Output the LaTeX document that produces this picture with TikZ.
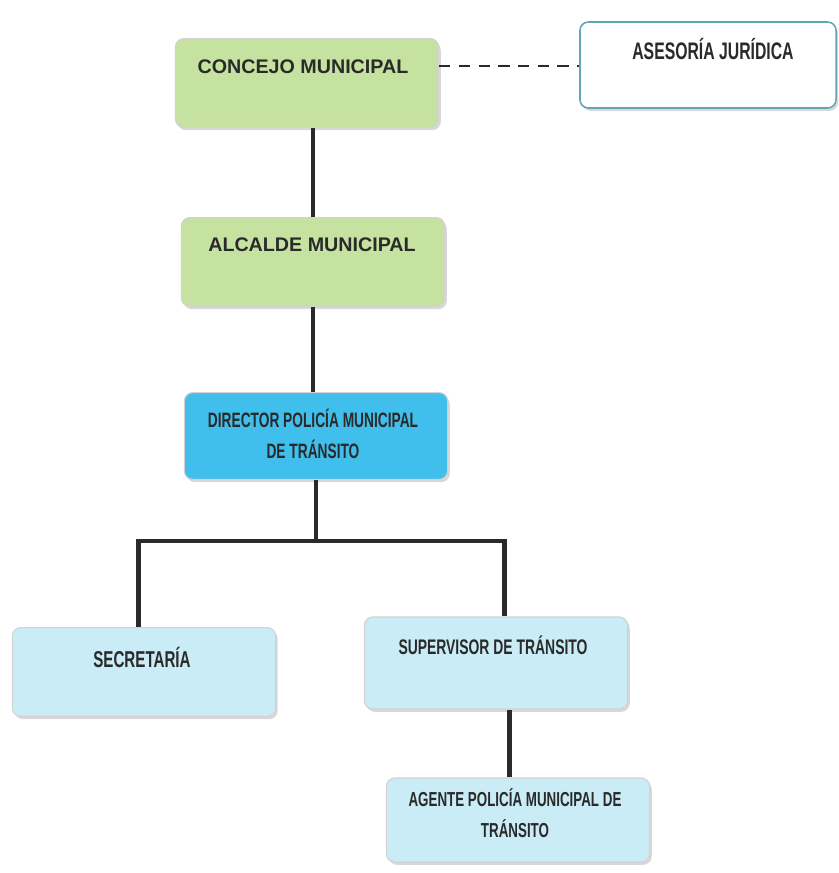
\documentclass[tikz,border=0pt]{standalone}
\usepackage{fontspec}
\setmainfont{Liberation Sans}
\newfontfamily\narrowfont[FakeStretch=0.66]{Liberation Sans}
\usetikzlibrary{shadows}
\definecolor{boxgreen}{RGB}{198,226,160}
\definecolor{boxblue}{RGB}{64,190,236}
\definecolor{boxpale}{RGB}{202,236,247}
\definecolor{boxedge}{RGB}{96,166,182}
\definecolor{inkgray}{RGB}{42,42,42}

\begin{document}
\begin{tikzpicture}[x=0.025cm,y=-0.025cm,
  box/.style={rounded corners=6pt, draw=gray!35, line width=0.8pt, minimum width=6.58cm, minimum height=2.22cm,
    drop shadow={shadow xshift=1.5pt, shadow yshift=-2pt, fill=gray!60}},
  greenbox/.style={box, fill=boxgreen},
  bluebox/.style={box, fill=boxblue},
  palebox/.style={box, fill=boxpale},
  whitebox/.style={box, fill=white, draw=boxedge, line width=1.1pt},
  widetxt/.style={font=\fontsize{14}{16}\selectfont\bfseries, text=inkgray},
  narrowtxt/.style={font=\fontsize{#1}{22}\selectfont\narrowfont\bfseries, text=inkgray, align=center},
  conn/.style={draw=inkgray, line width=3.5pt},
  dashline/.style={draw=inkgray, line width=1.6pt, dash pattern=on 8pt off 6pt}]
\useasboundingbox (0,0) rectangle (838,873);

\node[greenbox] (concejo) at (307,83) {};
\node[whitebox, minimum width=6.4cm, minimum height=2.15cm] (asesoria) at (708,65) {};
\node[greenbox] (alcalde) at (313,262) {};
\node[bluebox, minimum height=2.17cm] (director) at (316,436) {};
\node[palebox] (secretaria) at (144,672) {};
\node[palebox, minimum height=2.3cm] (supervisor) at (496,663) {};
\node[palebox, minimum height=2.1cm] (agente) at (518,820) {};

\node[widetxt] (concejotxt) at (303,67) {CONCEJO MUNICIPAL};
\node[narrowtxt=17] (asesoriatxt) at (713,49) {ASESORÍA JURÍDICA};
\node[widetxt] (alcaldetxt) at (312,245) {ALCALDE MUNICIPAL};
\node[narrowtxt=14.8] (directortxt) at (313,434) {DIRECTOR POLICÍA MUNICIPAL\\DE TRÁNSITO};
\node[narrowtxt=16.3] (secretariatxt) at (142,657) {SECRETARÍA};
\node[narrowtxt=15] (supervisortxt) at (493,645) {SUPERVISOR DE TRÁNSITO};
\node[narrowtxt=14.4] (agentetxt) at (515,813) {AGENTE POLICÍA MUNICIPAL DE\\TRÁNSITO};

\coordinate (bus) at (0,541);
\draw[dashline] ([yshift=12pt]concejo.east) -- ([yshift=12pt]concejo.east -| asesoria.west);
\draw[conn] (alcalde.north) -- (alcalde.north |- concejo.south);
\draw[conn] (alcalde.south) -- (alcalde.south |- director.north);
\draw[conn] (director.south) -- (director.south |- bus);
\draw[conn] ([xshift=-4pt]secretaria.north) |- (director.south |- bus) -| ([xshift=6pt]supervisor.north);
\draw[conn] ([xshift=-6pt]agente.north) -- ([xshift=-6pt]agente.north |- supervisor.south);
\end{tikzpicture}
\end{document}
